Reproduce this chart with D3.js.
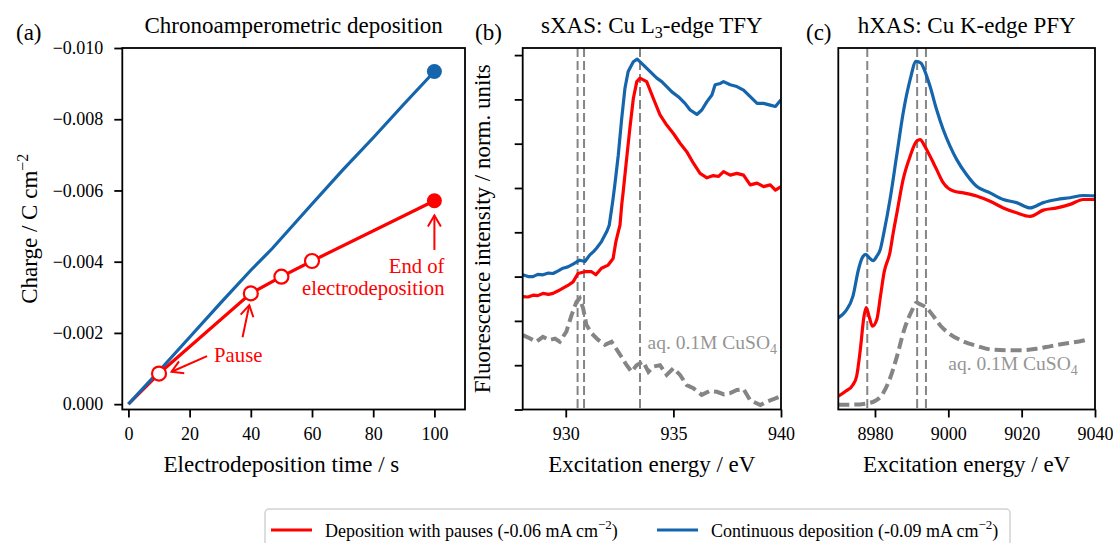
<!DOCTYPE html>
<html>
<head>
<meta charset="utf-8">
<script src="https://cdn.jsdelivr.net/npm/d3@7"></script>
<style>
  body { margin: 0; background: #fff; }
  svg { font-family: "Liberation Serif", "Times New Roman", Times, serif; }
</style>
</head>
<body>
<svg id="fig" width="1113" height="543"></svg>
<script>
// ---------- Panel (a): charge vs. electrodeposition time ----------
const timeTicks = [0, 20, 40, 60, 80, 100];
const chargeTicks = [0, -0.002, -0.004, -0.006, -0.008, -0.010];
const contTime = [0, 10, 20, 30, 40, 47, 60, 70, 80, 90, 100];
const contCharge = [0, -0.00093, -0.00188, -0.00283, -0.00376, -0.00437, -0.00562, -0.00657, -0.00748, -0.00842, -0.00934];
const pauseTime = [0, 10, 40, 50, 60, 100];
const pauseCharge = [0, -0.00086, -0.00311, -0.00358, -0.00402, -0.00571];

// ---------- Panel (b): Cu L3-edge TFY spectra [energy (eV), intensity] ----------
const lEdgeTicks = [930, 935, 940];
const lEdgeIntTicks = [0, 1, 2, 3, 4, 5, 6, 7, 8];
const lEdgeCont = [[928.0,3.04],[928.25,3.0],[928.48,3.0],[928.7,3.05],[928.94,3.04],[929.2,3.08],[929.41,3.07],[929.65,3.13],[929.87,3.19],[930.1,3.22],[930.34,3.28],[930.5,3.33],[930.65,3.37],[930.89,3.34],[931.12,3.49],[931.3,3.57],[931.43,3.64],[931.66,3.79],[931.9,4.01],[932.02,4.16],[932.18,4.69],[932.28,5.07],[932.44,5.74],[932.6,6.57],[932.75,7.25],[932.9,7.63],[933.14,7.85],[933.32,7.91],[933.6,7.78],[933.91,7.63],[934.23,7.48],[934.46,7.4],[934.69,7.29],[934.93,7.17],[935.23,7.06],[935.54,6.91],[935.78,6.76],[936.09,6.66],[936.32,6.76],[936.56,6.95],[936.79,7.1],[936.94,7.33],[937.18,7.36],[937.33,7.4],[937.64,7.33],[937.95,7.29],[938.26,7.21],[938.57,7.06],[938.89,6.91],[939.19,6.91],[939.5,6.87],[939.74,6.84],[940.0,6.99]];
const lEdgePause = [[928.0,2.55],[928.25,2.54],[928.48,2.58],[928.7,2.57],[928.94,2.62],[929.2,2.6],[929.41,2.62],[929.65,2.68],[929.87,2.74],[930.1,2.8],[930.34,2.88],[930.57,3.07],[930.89,3.11],[931.2,3.11],[931.4,3.04],[931.66,3.19],[931.97,3.26],[932.2,3.41],[932.33,3.79],[932.44,4.01],[932.52,4.16],[932.6,4.62],[932.67,4.92],[932.83,5.67],[932.98,6.35],[933.14,7.02],[933.3,7.4],[933.45,7.48],[933.76,7.4],[934.07,7.02],[934.38,6.65],[934.69,6.42],[935.0,6.23],[935.31,6.01],[935.62,5.82],[935.93,5.56],[936.24,5.33],[936.56,5.23],[936.86,5.28],[937.1,5.26],[937.33,5.37],[937.64,5.29],[937.95,5.33],[938.26,5.29],[938.57,5.07],[938.89,5.11],[939.19,5.03],[939.5,5.07],[939.74,4.95],[940.0,5.03]];
const lEdgeAq = [[928.01,1.68],[928.32,1.61],[928.63,1.53],[928.94,1.64],[929.25,1.57],[929.5,1.6],[929.72,1.53],[930.03,1.76],[930.27,2.13],[930.5,2.43],[930.65,2.51],[930.81,2.28],[930.96,1.91],[931.2,1.72],[931.51,1.57],[931.82,1.46],[932.13,1.53],[932.44,1.3],[932.83,1.0],[933.06,0.85],[933.29,1.0],[933.6,1.08],[933.84,0.85],[934.07,0.97],[934.38,1.0],[934.69,0.78],[935.0,0.93],[935.31,0.78],[935.62,0.55],[935.93,0.48],[936.32,0.33],[936.7,0.42],[937.02,0.4],[937.35,0.34],[937.64,0.37],[937.95,0.44],[938.26,0.46],[938.57,0.21],[939.04,0.1],[939.35,0.18],[939.74,0.25],[940,0.3]];
const lEdgeMarkers = [930.55, 930.85, 933.45];

// ---------- Panel (c): Cu K-edge PFY spectra [energy (eV), intensity] ----------
const kEdgeTicks = [8980, 9000, 9020, 9040];
const kEdgeCont = [[8970,2.07],[8972,2.22],[8974,2.56],[8975.5,3.16],[8976.5,3.42],[8977.5,3.5],[8978.5,3.42],[8979.5,3.36],[8980.5,3.46],[8981.4,3.6],[8982.5,4.02],[8984.1,4.74],[8985.9,5.72],[8987.7,6.7],[8989.6,7.45],[8991.2,7.86],[8992.5,7.82],[8993.6,7.64],[8995,7.3],[8996.8,6.77],[8998.6,6.32],[9000.5,5.94],[9002.3,5.64],[9005,5.3],[9007.7,5.04],[9011.4,4.89],[9015,4.74],[9018.6,4.67],[9022.3,4.55],[9025.9,4.67],[9029.6,4.74],[9033.2,4.78],[9036.8,4.83],[9040,4.82]];
const kEdgePause = [[8970,0.3],[8972,0.41],[8974,0.56],[8975,0.75],[8976,1.35],[8977,2.1],[8977.6,2.3],[8978.5,2.07],[8979.3,1.88],[8980.5,2.03],[8981.5,2.56],[8982.5,3.1],[8984.1,3.55],[8985,4.0],[8985.9,4.4],[8987.7,5.2],[8989.6,5.72],[8991.4,6.06],[8992.3,6.09],[8993.6,5.94],[8995,5.72],[8996.8,5.42],[8998.6,5.12],[9001.4,4.93],[9004.1,4.89],[9007.7,4.82],[9011.4,4.7],[9015,4.55],[9018.6,4.44],[9022.3,4.36],[9025.9,4.5],[9029.6,4.55],[9033.2,4.63],[9036.8,4.74],[9040,4.74]];
const kEdgeAq = [[8970,0.11],[8974,0.11],[8978,0.14],[8980,0.19],[8982,0.34],[8984,0.68],[8986,1.2],[8988,1.81],[8990,2.22],[8991.3,2.41],[8992.5,2.37],[8994,2.3],[8996,2.1],[8998,1.88],[9000,1.73],[9004,1.54],[9008,1.43],[9012,1.35],[9016,1.34],[9020,1.34],[9024,1.37],[9028,1.43],[9032,1.49],[9036,1.54],[9038,1.58]];
const kEdgeMarkers = [8977.9, 8991.5, 8993.9];

const legendLabels = ["Deposition with pauses (-0.06 mA cm", "Continuous deposition (-0.09 mA cm"];

// ---------- styling ----------
const RED = "#ff0000", BLUE = "#1565ad", GREY = "#858585", AQ_TEXT = "#959595";
const TICK_FS = 18, LABEL_FS = 23, TITLE_FS = 23, PANEL_FS = 23;
const TOP = 48, BOTTOM = 409.5;

const svg = d3.select("#fig");
const defs = svg.append("defs");

function frame(x0, x1, id) {
  defs.append("clipPath").attr("id", id)
    .append("rect").attr("x", x0).attr("y", TOP).attr("width", x1 - x0).attr("height", BOTTOM - TOP);
}
function spines(g, x0, x1) {
  g.append("rect").attr("x", x0).attr("y", TOP).attr("width", x1 - x0).attr("height", BOTTOM - TOP)
    .attr("fill", "none").attr("stroke", "#000").attr("stroke-width", 1.8);
}
function styleAxis(sel) {
  sel.select(".domain").remove();
  sel.selectAll(".tick line").attr("stroke", "#000").attr("stroke-width", 1.8);
  sel.selectAll(".tick text").attr("fill", "#000").attr("font-size", TICK_FS)
     .attr("font-family", '"Liberation Serif", "Times New Roman", serif');
}
function title(x, txt) {
  return svg.append("text").attr("x", x).attr("y", 33).attr("text-anchor", "middle")
    .attr("font-size", TITLE_FS).text(txt);
}
function arrow(g, x1, y1, x2, y2, color) {
  const dx = x2 - x1, dy = y2 - y1, L = Math.hypot(dx, dy);
  const ux = dx / L, uy = dy / L, hl = 11, hw = 6.5;
  g.append("line").attr("x1", x1).attr("y1", y1).attr("x2", x2).attr("y2", y2)
    .attr("stroke", color).attr("stroke-width", 2);
  g.append("path")
    .attr("d", `M${x2 - ux*hl - uy*hw},${y2 - uy*hl + ux*hw}L${x2},${y2}L${x2 - ux*hl + uy*hw},${y2 - uy*hl - ux*hw}`)
    .attr("fill", "none").attr("stroke", color).attr("stroke-width", 2).attr("stroke-linejoin", "miter");
}

// ================= Panel (a) =================
{
  const x0 = 122.3, x1 = 465;
  const x = d3.scaleLinear().domain([-2, 110]).range([x0, x1]);
  const y = d3.scaleLinear().domain([0.00015, -0.010]).range([BOTTOM, TOP]);
  const g = svg.append("g");
  frame(x0, x1, "clipA");

  g.append("g").attr("transform", `translate(0,${BOTTOM})`)
    .call(d3.axisBottom(x).tickValues(timeTicks).tickSize(8).tickPadding(10).tickFormat(d3.format("d")))
    .call(styleAxis);
  g.append("g").attr("transform", `translate(${x0},0)`)
    .call(d3.axisLeft(y).tickValues(chargeTicks).tickSize(8).tickPadding(11).tickFormat(d3.format(".3f")))
    .call(styleAxis);

  const plot = g.append("g").attr("clip-path", "url(#clipA)");
  const line = d3.line().x(d => x(d[0])).y(d => y(d[1]));
  const pausePts = pauseTime.map((t, i) => [t, pauseCharge[i]]);
  const contPts = contTime.map((t, i) => [t, contCharge[i]]);

  plot.append("path").datum(pausePts).attr("d", line)
    .attr("fill", "none").attr("stroke", RED).attr("stroke-width", 3.2);
  plot.append("path").datum(contPts).attr("d", line)
    .attr("fill", "none").attr("stroke", BLUE).attr("stroke-width", 3.2);
  // pause points (open) and final points (filled)
  plot.selectAll(".pause").data(pausePts.slice(1, -1)).join("circle")
    .attr("cx", d => x(d[0])).attr("cy", d => y(d[1])).attr("r", 7)
    .attr("fill", "#fff").attr("stroke", RED).attr("stroke-width", 2.2);
  const endPause = pausePts[pausePts.length - 1], endCont = contPts[contPts.length - 1];
  plot.append("circle").attr("cx", x(endPause[0])).attr("cy", y(endPause[1])).attr("r", 7.5).attr("fill", RED);
  plot.append("circle").attr("cx", x(endCont[0])).attr("cy", y(endCont[1])).attr("r", 7.5).attr("fill", BLUE);

  // annotations
  const ann = g.append("g").attr("fill", RED).attr("font-size", 20.7);
  ann.append("text").attr("x", x(28)).attr("y", y(-0.00119)).text("Pause");
  arrow(g, x(25.7), y(-0.00135), x(14.1), y(-0.00091), RED);
  arrow(g, x(37.3), y(-0.00188), x(39.5), y(-0.00278), RED);
  const endTxt = ann.append("text").attr("text-anchor", "end");
  endTxt.append("tspan").attr("x", x(103.3)).attr("y", y(-0.00368)).text("End of");
  endTxt.append("tspan").attr("x", x(103.3)).attr("y", y(-0.00306)).text("electrodeposition");
  arrow(g, x(100), y(-0.00433), x(100), y(-0.00530), RED);

  spines(g, x0, x1);
  title((x0 + x1) / 2, "Chronoamperometric deposition");
  svg.append("text").attr("x", x(50)).attr("y", 471.5).attr("text-anchor", "middle")
    .attr("font-size", LABEL_FS).text("Electrodeposition time / s");
  const yl = svg.append("text").attr("transform", `translate(37,${(TOP + BOTTOM) / 2}) rotate(-90)`)
    .attr("text-anchor", "middle").attr("font-size", LABEL_FS);
  yl.append("tspan").text("Charge / C cm");
  yl.append("tspan").attr("dy", -9).attr("font-size", 16).text("\u22122");
  svg.append("text").attr("x", 16).attr("y", 40).attr("font-size", PANEL_FS).text("(a)");
}

// ================= Panel (b) =================
{
  const x0 = 522.7, x1 = 781;
  const x = d3.scaleLinear().domain([928, 940]).range([x0, x1]);
  const y = d3.scaleLinear().domain([0, 8.16]).range([BOTTOM, TOP]);
  const g = svg.append("g");
  frame(x0, x1, "clipB");
  g.append("g").attr("transform", `translate(0,${BOTTOM})`)
    .call(d3.axisBottom(x).tickValues(lEdgeTicks).tickSize(8).tickPadding(10).tickFormat(d3.format("d")))
    .call(styleAxis);
  g.append("g").attr("transform", `translate(${x0},0)`)
    .call(d3.axisLeft(y).tickValues(lEdgeIntTicks).tickSize(8).tickFormat(""))
    .call(styleAxis);

  const plot = g.append("g").attr("clip-path", "url(#clipB)");
  const line = d3.line().x(d => x(d[0])).y(d => y(d[1]));
  plot.selectAll(".vl").data(lEdgeMarkers).join("line")
    .attr("x1", d => x(d)).attr("x2", d => x(d)).attr("y1", TOP).attr("y2", BOTTOM)
    .attr("stroke", GREY).attr("stroke-width", 2).attr("stroke-dasharray", "9,4");
  plot.append("path").datum(lEdgeAq).attr("d", line).attr("fill", "none")
    .attr("stroke", GREY).attr("stroke-width", 4).attr("stroke-dasharray", "11,5");
  plot.append("path").datum(lEdgePause).attr("d", line).attr("fill", "none")
    .attr("stroke", RED).attr("stroke-width", 3.2).attr("stroke-linejoin", "round");
  plot.append("path").datum(lEdgeCont).attr("d", line).attr("fill", "none")
    .attr("stroke", BLUE).attr("stroke-width", 3.2).attr("stroke-linejoin", "round");

  const aq = g.append("text").attr("x", x(933.8)).attr("y", y(1.37)).attr("fill", AQ_TEXT).attr("font-size", 19.5);
  aq.append("tspan").text("aq. 0.1M CuSO");
  aq.append("tspan").attr("dy", 5).attr("font-size", 14).text("4");

  spines(g, x0, x1);
  const t = svg.append("text").attr("x", (x0 + x1) / 2).attr("y", 33).attr("text-anchor", "middle").attr("font-size", TITLE_FS);
  t.append("tspan").text("sXAS: Cu L");
  t.append("tspan").attr("dy", 5).attr("font-size", 16).text("3");
  t.append("tspan").attr("dy", -5).text("-edge TFY");
  svg.append("text").attr("x", (x0 + x1) / 2).attr("y", 471.5).attr("text-anchor", "middle")
    .attr("font-size", LABEL_FS).text("Excitation energy / eV");
  svg.append("text").attr("transform", `translate(490,${(TOP + BOTTOM) / 2}) rotate(-90)`)
    .attr("text-anchor", "middle").attr("font-size", LABEL_FS).text("Fluorescence intensity / norm. units");
  svg.append("text").attr("x", 475).attr("y", 40).attr("font-size", PANEL_FS).text("(b)");
}

// ================= Panel (c) =================
{
  const x0 = 838.3, x1 = 1095;
  const x = d3.scaleLinear().domain([8970, 9040]).range([x0, x1]);
  const y = d3.scaleLinear().domain([0, 8.16]).range([BOTTOM, TOP]);
  const g = svg.append("g");
  frame(x0, x1, "clipC");
  g.append("g").attr("transform", `translate(0,${BOTTOM})`)
    .call(d3.axisBottom(x).tickValues(kEdgeTicks).tickSize(8).tickPadding(10).tickFormat(d3.format("d")))
    .call(styleAxis);

  const plot = g.append("g").attr("clip-path", "url(#clipC)");
  const line = d3.line().x(d => x(d[0])).y(d => y(d[1])).curve(d3.curveMonotoneX);
  plot.selectAll(".vl").data(kEdgeMarkers).join("line")
    .attr("x1", d => x(d)).attr("x2", d => x(d)).attr("y1", TOP).attr("y2", BOTTOM)
    .attr("stroke", GREY).attr("stroke-width", 2).attr("stroke-dasharray", "9,4");
  plot.append("path").datum(kEdgeAq).attr("d", line).attr("fill", "none")
    .attr("stroke", GREY).attr("stroke-width", 4).attr("stroke-dasharray", "11,5");
  plot.append("path").datum(kEdgePause).attr("d", line).attr("fill", "none")
    .attr("stroke", RED).attr("stroke-width", 3.2).attr("stroke-linejoin", "round");
  plot.append("path").datum(kEdgeCont).attr("d", line).attr("fill", "none")
    .attr("stroke", BLUE).attr("stroke-width", 3.2).attr("stroke-linejoin", "round");

  const aq = g.append("text").attr("x", x(9000)).attr("y", y(0.89)).attr("fill", AQ_TEXT).attr("font-size", 19.5);
  aq.append("tspan").text("aq. 0.1M CuSO");
  aq.append("tspan").attr("dy", 5).attr("font-size", 14).text("4");

  spines(g, x0, x1);
  title((x0 + x1) / 2, "hXAS: Cu K-edge PFY");
  svg.append("text").attr("x", (x0 + x1) / 2).attr("y", 471.5).attr("text-anchor", "middle")
    .attr("font-size", LABEL_FS).text("Excitation energy / eV");
  svg.append("text").attr("x", 806).attr("y", 40).attr("font-size", PANEL_FS).text("(c)");
}

// ================= Legend =================
{
  const lg = svg.append("g");
  lg.append("rect").attr("x", 265).attr("y", 509).attr("width", 745).attr("height", 44).attr("rx", 4)
    .attr("fill", "#fff").attr("stroke", "#d2d2d2").attr("stroke-width", 1.5);
  const items = [{ label: legendLabels[0], color: RED, x: 271 }, { label: legendLabels[1], color: BLUE, x: 657 }];
  items.forEach(it => {
    lg.append("line").attr("x1", it.x).attr("x2", it.x + 41).attr("y1", 530).attr("y2", 530)
      .attr("stroke", it.color).attr("stroke-width", 3.2);
    const t = lg.append("text").attr("x", it.x + 54).attr("y", 536.5).attr("font-size", 18);
    t.append("tspan").text(it.label);
    t.append("tspan").attr("dy", -8).attr("font-size", 13).text("\u22122");
    t.append("tspan").attr("dy", 8).text(")");
  });
}
</script>
</body>
</html>
